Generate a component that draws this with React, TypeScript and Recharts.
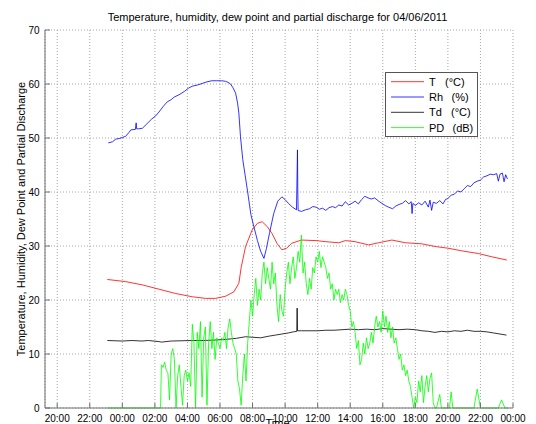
import React from 'react';
import { LineChart, Line, XAxis, YAxis, CartesianGrid } from 'recharts';

// x values are hours relative to 00:00 on 04/06/2011
const xTicks = [-4, -2, 0, 2, 4, 6, 8, 10, 12, 14, 16, 18, 20, 22, 24];
const yTicks = [0, 10, 20, 30, 40, 50, 60, 70];

const tTimes = [-0.92, 0.21, 1.23, 2.25, 3.28, 4.29, 5.12, 5.73, 6.34, 6.85, 7.16, 7.3, 7.57, 7.98, 8.3, 8.59, 8.9, 9.2, 9.5, 9.8, 10.1, 10.4, 11.0, 11.9, 12.5, 13.3, 13.7, 14.3, 15.13, 15.75, 16.56, 17.39, 18.4, 19.23, 20.0, 20.86, 21.88, 22.7, 23.62];
const tValues = [23.8, 23.4, 22.8, 22.0, 21.2, 20.6, 20.3, 20.3, 20.7, 21.5, 23.1, 26.0, 29.9, 33.0, 34.2, 34.5, 33.6, 32.3, 30.5, 29.3, 29.6, 30.5, 31.1, 31.0, 30.8, 30.6, 31.0, 30.8, 30.2, 30.6, 31.1, 30.6, 30.4, 29.9, 29.6, 29.1, 28.6, 28.0, 27.4];

const rhTimes = [-0.86, -0.6, -0.4, -0.2, 0.0, 0.2, 0.4, 0.52, 0.8, 0.85, 0.88, 1.0, 1.23, 1.5, 1.8, 2.05, 2.25, 2.5, 2.76, 3.0, 3.2, 3.48, 3.8, 4.05, 4.3, 4.6, 4.9, 5.2, 5.5, 5.8, 6.1, 6.34, 6.5, 6.65, 6.8, 6.96, 7.08, 7.16, 7.26, 7.4, 7.55, 7.7, 7.9, 8.08, 8.3, 8.5, 8.7, 8.85, 9.05, 9.3, 9.55, 9.8, 10.0, 10.2, 10.45, 10.7, 10.76, 10.78, 10.8, 11.0, 11.25, 11.5, 11.7, 11.9, 12.1, 12.3, 12.5, 12.7, 12.9, 13.1, 13.3, 13.5, 13.7, 13.9, 14.1, 14.3, 14.5, 14.7, 14.9, 15.1, 15.3, 15.5, 15.75, 15.95, 16.15, 16.35, 16.6, 16.8, 17.0, 17.2, 17.4, 17.6, 17.75, 17.8, 17.85, 18.0, 18.2, 18.4, 18.6, 18.8, 18.9, 19.0, 19.1, 19.3, 19.5, 19.7, 19.85, 20.0, 20.2, 20.4, 20.6, 20.8, 21.0, 21.2, 21.4, 21.6, 21.8, 22.0, 22.2, 22.4, 22.6, 22.8, 23.0, 23.1, 23.2, 23.35, 23.45, 23.55, 23.66];
const rhValues = [49.1, 49.3, 49.8, 49.9, 50.1, 50.3, 51.0, 51.5, 51.6, 52.8, 51.7, 51.7, 51.8, 52.6, 53.5, 54.1, 54.8, 55.8, 56.7, 57.1, 57.6, 58.0, 58.6, 59.2, 59.6, 59.8, 60.1, 60.4, 60.6, 60.6, 60.6, 60.5, 60.3, 60.0, 59.3, 58.3, 56.5, 54.6, 50.2, 46.0, 43.0, 40.0, 35.8, 33.6, 31.0, 29.0, 27.7, 29.5, 32.5, 36.0, 38.3, 39.1, 38.6, 37.9, 37.2, 36.7, 47.8, 40.0, 36.6, 36.4, 36.7, 36.9, 37.3, 37.2, 36.8, 37.0, 36.6, 37.1, 37.3, 37.1, 37.6, 37.4, 38.2, 37.6, 37.9, 38.3, 37.8, 38.6, 39.2, 38.9, 38.7, 38.9, 38.3, 37.9, 37.5, 37.2, 36.9, 37.4, 37.7, 37.9, 38.4, 37.8, 38.2, 36.0, 37.9, 37.5, 38.0, 37.6, 38.3, 37.2, 38.5, 36.6, 38.1, 37.9, 38.4, 37.8, 38.6, 38.8, 39.4, 39.6, 40.2, 40.0, 40.6, 41.2, 41.0, 41.7, 42.0, 42.2, 42.8, 43.0, 43.3, 43.2, 43.4, 42.0, 43.3, 43.5, 41.9, 43.2, 42.4];

const tdTimes = [-0.92, 0.0, 0.6, 1.2, 1.6, 2.25, 2.4, 3.0, 4.29, 5.0, 5.8, 6.34, 7.0, 7.57, 8.0, 8.5, 9.0, 9.4, 9.8, 10.2, 10.5, 10.72, 10.74, 10.76, 11.0, 12.0, 12.5, 13.0, 13.5, 14.0, 14.5, 15.0, 15.5, 16.0, 16.5, 17.0, 17.5, 18.0, 18.4, 18.8, 19.2, 19.6, 20.0, 20.4, 20.8, 21.2, 21.6, 22.0, 22.4, 22.8, 23.2, 23.6];
const tdValues = [12.5, 12.4, 12.5, 12.4, 12.5, 12.3, 12.2, 12.4, 12.5, 12.5, 12.6, 12.7, 12.9, 13.2, 13.1, 13.0, 13.3, 13.5, 13.7, 13.9, 14.1, 14.2, 18.5, 14.3, 14.3, 14.3, 14.4, 14.4, 14.5, 14.6, 14.5, 14.6, 14.5, 14.7, 14.6, 14.5, 14.6, 14.5, 14.3, 14.2, 14.0, 14.2, 14.1, 14.3, 14.2, 14.4, 14.2, 14.2, 14.1, 13.9, 13.7, 13.5];

const pdTimes = [-0.9, 2.3, 2.35,
  2.4, 2.5, 2.6, 2.7, 2.8, 2.9, 3.0, 3.1, 3.2, 3.3, 3.4, 3.5, 3.6, 3.7, 3.8, 3.9,
  4.0, 4.1, 4.2, 4.3, 4.4, 4.5, 4.6, 4.7, 4.8, 4.9, 5.0, 5.1, 5.2, 5.3, 5.4, 5.5, 5.6, 5.7, 5.8, 5.9,
  6.0, 6.1, 6.2, 6.3, 6.4, 6.5, 6.6, 6.7, 6.8, 6.9, 7.0, 7.1, 7.2, 7.3, 7.4, 7.5, 7.6, 7.7, 7.8, 7.9,
  8.0, 8.1, 8.2, 8.3, 8.4, 8.5, 8.6, 8.7, 8.8, 8.9, 9.0, 9.1, 9.2, 9.3, 9.4, 9.5, 9.6, 9.7, 9.8, 9.9,
  10.0, 10.1, 10.2, 10.3, 10.4, 10.5, 10.6, 10.7, 10.8, 10.9, 11.0, 11.1, 11.2, 11.3, 11.4, 11.5, 11.6, 11.7, 11.8, 11.9,
  12.0, 12.1, 12.2, 12.3, 12.4, 12.5, 12.6, 12.7, 12.8, 12.9, 13.0, 13.1, 13.2, 13.3, 13.4, 13.5, 13.6, 13.7, 13.8, 13.9,
  14.0, 14.1, 14.2, 14.3, 14.4, 14.5, 14.6, 14.7, 14.8, 14.9, 15.0, 15.1, 15.2, 15.3, 15.4, 15.5, 15.6, 15.7, 15.8, 15.9,
  16.0, 16.1, 16.2, 16.3, 16.4, 16.5, 16.6, 16.7, 16.8, 16.9, 17.0, 17.1, 17.2, 17.3, 17.4, 17.5, 17.6, 17.7, 17.8, 17.9,
  18.0, 18.1, 18.2, 18.3, 18.4, 18.5, 18.6, 18.7, 18.8, 18.9, 19.0, 19.1, 19.2,
  19.3, 19.5, 19.6, 20.1, 20.2, 20.3, 21.6, 21.8, 22.0, 23.1, 23.3, 23.5, 23.7];
const pdValues = [0, 0, 0,
  8, 7.5, 8.5, 7, 6.5, 1.5, 10, 11, 9, 0, 6, 8, 4, 0.5, 6, 7,
  5, 6.5, 4, 15.5, 12, 0, 14, 11, 16, 2, 13, 15, 0.5, 12, 16, 11, 14, 9, 13, 12,
  11, 13, 12.5, 14, 11, 15, 16.5, 14, 12, 11, 10, 5, 3.5, 0.5, 6, 10, 5, 12, 16, 20,
  17, 21, 24, 19, 22, 20, 25, 27, 23, 26, 24, 22, 27, 23, 25, 19, 16, 21, 18, 17,
  22, 25, 27, 23, 26, 28, 24, 26, 29, 27, 32, 25, 27, 23, 21, 24, 22, 26, 25, 28,
  27, 29, 26, 28, 27, 26, 24, 25, 22, 23, 20, 22, 21, 22, 19.5, 21, 20, 22, 21, 19,
  18, 15, 16, 14, 11, 12.5, 8, 9, 12, 10, 13, 11, 12, 14, 12, 15, 17, 15, 16, 14,
  18, 15, 17, 14, 16, 13, 15, 12, 13, 11, 9, 10, 7, 8, 6, 7, 5, 4, 2, 0,
  2, 1, 5, 3, 6, 1, 4, 6, 3, 5.5, 6.5, 1, 0,
  0, 2.5, 0, 0, 3, 0, 0, 3.5, 0, 0, 1.5, 0, 0];

const seriesNames = ['T', 'Rh', 'Td', 'PD'];
const seriesUnits = ['(°C)', '(%)', '(°C)', '(dB)'];
const seriesColors = ['#ff0000', '#0000ff', '#000000', '#00ff00'];

const zip = (ts: number[], vs: number[]) => ts.map((t, i) => ({ t, v: vs[i] }));
const seriesData = [zip(tTimes, tValues), zip(rhTimes, rhValues), zip(tdTimes, tdValues), zip(pdTimes, pdValues)];

const fmtHour = (h: number) => {
  const hh = ((Math.round(h) % 24) + 24) % 24;
  return (hh < 10 ? '0' : '') + hh + ':00';
};

const FONT = '"Liberation Sans", Arial, Helvetica, sans-serif';
const AXIS = '#6e6e6e';

export default function App() {
  const tickStyle = { fontSize: 10, fill: '#000', fontFamily: FONT };
  const unitX = [445, 451.5, 451, 452.5];
  return (
    <div style={{ position: 'absolute', left: 0, top: 0, width: 536, height: 424, background: '#fff' }}>
      <LineChart width={536} height={424} margin={{ top: 30, right: 23, bottom: 0, left: 0 }}>
        <CartesianGrid stroke="#a8a8a8" strokeDasharray="1 2" />
        <XAxis
          type="number"
          dataKey="t"
          domain={[-4.75, 24]}
          ticks={xTicks}
          allowDataOverflow
          tickFormatter={fmtHour}
          height={16}
          stroke={AXIS}
          tickSize={-5}
          tickMargin={12}
          tick={tickStyle}
          interval={0}
        />
        <XAxis
          xAxisId="top"
          orientation="top"
          type="number"
          dataKey="t"
          domain={[-4.75, 24]}
          ticks={xTicks}
          allowDataOverflow
          height={0}
          stroke={AXIS}
          tickSize={-5}
          tick={false}
        />
        <YAxis
          type="number"
          domain={[0, 70]}
          ticks={yTicks}
          width={45}
          stroke={AXIS}
          tickSize={-5}
          tickMargin={10.5}
          tick={tickStyle}
          interval={0}
        />
        <YAxis
          yAxisId="right"
          orientation="right"
          type="number"
          domain={[0, 70]}
          ticks={yTicks}
          width={0}
          stroke={AXIS}
          tickSize={-5}
          tick={false}
        />
        {seriesData.map((d, i) => (
          <Line
            key={seriesNames[i]}
            data={d}
            dataKey="v"
            type="linear"
            stroke={seriesColors[i]}
            strokeWidth={0.8}
            dot={false}
            activeDot={false}
            isAnimationActive={false}
          />
        ))}
      </LineChart>
      <svg width={536} height={424} style={{ position: 'absolute', left: 0, top: 0, pointerEvents: 'none' }}>
        <text x={277.5} y={21} textAnchor="middle" fontSize={11} fontFamily={FONT} fill="#000">
          Temperature, humidity, dew point and partial discharge for 04/06/2011
        </text>
        <text x={277.5} y={427} textAnchor="middle" fontSize={11} fontFamily={FONT} fill="#000">Time</text>
        <text x={25} y={219} textAnchor="middle" fontSize={11} fontFamily={FONT} fill="#000" transform="rotate(-90 25 219)">
          Temperature, Humidity, Dew Point and Partial Discharge
        </text>
        <rect x={385.5} y={72.5} width={92} height={64} fill="#fff" stroke="#555" strokeWidth={1} />
        {seriesNames.map((n, i) => {
          const cy = 81.7 + i * 15.3;
          return (
            <g key={n}>
              <line x1={391} x2={424} y1={cy} y2={cy} stroke={seriesColors[i]} strokeWidth={0.8} />
              <text x={429} y={cy + 4} fontSize={11} fontFamily={FONT} fill="#000">{n}</text>
              <text x={unitX[i]} y={cy + 4} fontSize={11} fontFamily={FONT} fill="#000">{seriesUnits[i]}</text>
            </g>
          );
        })}
      </svg>
    </div>
  );
}
